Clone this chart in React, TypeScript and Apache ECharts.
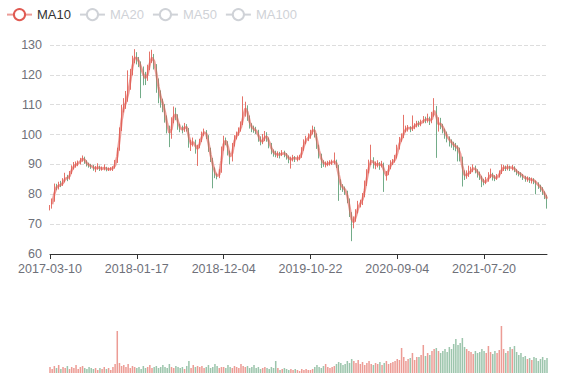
import React, { useEffect, useRef } from "react";
import * as echarts from "echarts";

// x-axis tick labels (every 40th category)
const labelDates = ["2017-03-10", "2018-01-17", "2018-12-04", "2019-10-22", "2020-09-04", "2021-07-20"];
const pointsPerLabel = 40;

// [open, close, lowest, highest]
const candles: number[][] = [
  [75.0,75.5,74.6,76.4],[75.6,77.8,75.2,78.6],[77.9,82.5,77.5,83.6],[82.6,82.2,81.4,83.5],[82.0,83.4,81.6,84.2],
  [83.6,83.0,82.4,84.5],[83.1,84.6,82.8,85.4],[84.5,85.7,84.0,87.2],[85.9,85.2,84.4,86.5],[85.1,87.0,84.9,87.8],
  [87.2,89.0,86.8,89.7],[89.2,89.6,88.3,90.8],[89.4,90.2,88.9,91.0],[90.1,90.5,89.4,91.3],[90.6,91.5,90.0,92.2],
  [91.4,92.3,90.9,93.0],[92.2,90.8,90.2,92.6],[90.9,90.0,89.3,91.4],[90.1,89.6,88.9,90.6],[89.5,89.3,88.5,90.2],
  [89.4,88.6,87.9,89.8],[88.5,88.7,87.4,89.5],[88.8,89.2,88.2,90.4],[89.3,88.4,87.8,89.6],[88.3,88.7,87.9,89.3],
  [88.8,88.9,88.0,90.0],[88.9,88.3,87.7,89.2],[88.2,88.4,87.8,89.0],[88.5,88.6,87.9,89.1],[88.5,88.8,87.8,89.4],
  [88.9,90.7,88.6,91.5],[90.8,94.8,90.5,95.6],[95.0,101.5,94.6,102.4],[101.8,108.0,101.2,110.0],[108.2,109.6,107.4,112.2],
  [109.4,112.0,108.6,114.6],[112.2,115.5,111.0,121.5],[115.8,120.5,115.0,122.0],[120.8,125.0,119.8,126.4],[125.2,126.3,123.9,128.6],
  [126.4,125.0,123.5,127.6],[125.1,123.8,122.6,126.0],[123.6,120.8,112.2,124.5],[121.0,119.5,116.5,122.8],[119.3,118.4,116.6,121.0],
  [118.6,122.0,118.0,123.4],[122.2,125.5,121.6,127.8],[125.6,126.0,124.0,128.4],[126.2,123.0,121.8,127.0],[123.0,118.0,114.0,123.6],
  [118.2,114.0,110.5,118.8],[114.2,111.0,109.0,114.8],[111.2,109.8,107.5,112.0],[109.5,105.0,104.0,110.2],[105.2,102.0,100.4,106.4],
  [102.2,99.2,95.8,103.0],[99.4,104.5,98.6,105.8],[104.6,107.5,103.8,109.4],[107.6,106.0,104.8,109.0],[106.2,102.5,101.6,106.8],
  [102.4,102.0,100.8,103.6],[102.2,101.5,100.4,103.0],[101.4,103.0,100.9,103.9],[103.2,102.0,101.0,103.5],[101.8,96.5,95.6,102.2],
  [96.6,97.0,94.5,98.2],[97.2,98.0,96.0,99.0],[97.8,94.5,93.6,98.3],[94.6,96.0,89.5,96.6],[96.2,97.9,95.4,98.6],
  [98.0,100.5,97.5,101.0],[100.4,101.0,99.6,102.0],[101.2,99.5,98.5,101.5],[99.4,95.0,94.2,99.8],[95.2,91.5,90.8,95.6],
  [91.6,88.6,82.0,92.2],[88.4,86.5,85.4,89.0],[86.6,85.8,85.0,87.0],[85.9,87.5,85.4,88.4],[87.6,95.0,87.2,96.0],
  [95.2,98.4,94.6,99.6],[98.2,97.5,96.4,99.0],[97.4,94.0,93.0,97.8],[94.2,91.2,90.0,94.6],[91.4,96.5,91.0,97.2],
  [96.6,99.0,96.0,99.8],[99.2,100.2,98.4,101.0],[100.4,101.5,99.6,102.4],[101.6,103.5,101.0,104.4],[103.8,108.0,103.2,112.8],
  [108.2,109.5,106.0,111.0],[109.4,105.5,104.6,109.8],[105.6,103.0,102.0,106.4],[103.2,102.0,100.8,103.8],[102.0,101.6,100.6,103.0],
  [101.5,101.0,100.2,102.6],[101.2,98.5,97.6,101.6],[98.6,97.3,96.4,99.4],[97.4,98.2,96.8,100.2],[98.4,100.0,97.8,101.2],
  [100.2,98.5,97.6,100.8],[98.4,96.5,95.4,99.0],[96.6,94.5,93.4,97.2],[94.4,93.8,92.6,95.0],[93.6,93.2,92.4,94.6],
  [93.0,93.5,92.2,94.4],[93.6,93.2,92.0,94.2],[93.0,94.0,92.8,94.8],[94.2,93.5,92.4,94.6],[93.4,92.8,91.6,93.8],
  [92.6,91.5,90.4,93.0],[91.4,91.8,88.6,92.6],[91.8,92.3,91.0,93.2],[92.4,91.8,90.8,92.8],[91.8,92.0,91.0,93.0],
  [92.2,92.4,91.4,93.2],[92.6,95.0,92.2,95.8],[95.2,97.5,94.6,98.4],[97.6,98.6,96.8,99.6],[98.8,99.0,97.8,100.4],
  [99.2,100.5,98.6,101.6],[100.6,102.3,100.0,103.0],[102.2,100.2,99.0,102.6],[100.0,96.0,95.2,100.4],[96.2,93.0,92.0,96.6],
  [93.2,90.8,88.8,93.6],[90.6,90.2,89.2,91.4],[90.0,90.1,89.0,91.0],[90.2,90.4,89.4,91.2],[90.4,90.6,89.6,91.4],
  [90.4,90.8,89.8,91.6],[90.9,91.2,90.0,94.0],[91.0,89.5,88.8,91.6],[89.4,84.0,77.8,89.8],[84.2,82.5,81.4,85.0],
  [82.4,82.0,80.8,83.4],[82.2,81.0,79.8,82.6],[80.8,78.0,77.0,81.2],[78.2,73.5,72.4,78.6],[73.6,69.8,64.3,74.0],
  [70.0,71.5,68.6,72.6],[71.6,74.0,70.8,75.0],[74.2,76.8,73.6,77.8],[76.6,77.0,75.6,78.2],[77.2,79.5,76.4,80.4],
  [79.6,83.0,79.0,84.6],[83.2,87.5,82.8,88.4],[87.6,90.5,87.0,91.6],[90.6,91.8,89.8,96.6],[91.6,89.8,88.6,92.4],
  [89.6,90.0,88.4,91.0],[89.9,90.3,89.0,91.4],[90.2,89.5,88.2,90.8],[89.6,90.3,89.0,91.2],[90.2,85.5,80.8,90.6],
  [85.6,87.0,84.6,87.8],[87.2,89.0,86.4,89.8],[89.2,90.5,88.4,91.4],[90.6,91.0,89.8,91.8],[91.2,92.3,90.6,93.2],
  [92.4,95.5,92.0,96.6],[95.6,98.0,95.0,99.2],[98.2,99.2,97.6,100.4],[99.4,101.5,98.8,106.6],[101.6,102.0,100.8,103.0],
  [102.0,102.4,101.0,103.2],[102.4,101.8,100.8,102.8],[101.8,102.6,101.2,106.4],[102.8,103.0,101.8,103.8],[103.0,103.8,102.4,104.6],
  [103.6,103.5,102.6,104.6],[103.4,104.2,102.8,105.0],[104.4,105.0,103.8,106.2],[105.2,104.8,103.8,106.0],[104.6,105.5,104.0,107.0],
  [105.4,104.0,103.2,106.0],[104.2,106.5,103.8,107.6],[106.6,109.5,106.0,112.2],[109.2,103.0,92.2,109.6],[103.2,104.0,101.0,105.8],
  [104.2,103.2,101.8,105.6],[103.0,101.8,100.4,103.6],[101.6,100.0,98.6,102.0],[100.2,98.8,97.4,101.0],[98.6,97.9,96.0,99.4],
  [97.8,97.0,95.6,98.4],[96.8,96.2,94.8,97.6],[96.4,95.8,94.4,97.2],[95.6,95.0,91.0,96.4],[94.8,92.0,91.0,95.6],
  [92.2,87.0,82.6,92.6],[87.2,86.0,84.8,88.0],[86.2,86.8,85.2,88.0],[86.8,87.3,85.8,89.6],[87.4,88.2,86.8,89.2],
  [88.4,89.0,87.4,90.0],[89.2,88.0,87.0,89.6],[87.8,87.0,85.6,88.4],[87.2,86.0,84.8,87.6],[85.8,84.3,82.4,86.2],
  [84.4,84.0,83.0,85.2],[84.2,84.6,83.4,85.8],[84.8,86.0,84.2,87.4],[86.2,86.8,85.4,88.6],[86.6,85.8,84.6,87.2],
  [85.6,85.2,84.4,86.4],[85.4,86.0,84.8,86.8],[86.2,87.0,85.6,88.0],[87.2,88.8,86.8,90.0],[88.6,89.0,87.8,89.8],
  [89.2,88.7,87.8,89.6],[88.6,89.2,88.0,90.0],[89.0,88.8,87.8,89.6],[88.8,89.0,88.0,89.8],[89.2,88.2,87.4,89.4],
  [88.0,87.3,86.4,88.4],[87.2,87.0,86.0,87.8],[86.8,86.5,85.6,87.4],[86.6,85.7,84.8,86.8],[85.6,85.2,84.2,86.2],
  [84.9,85.3,84.2,86.0],[85.2,84.8,83.8,85.8],[84.6,84.9,83.6,85.6],[85.0,84.4,83.4,85.4],[84.2,83.5,80.0,84.6],
  [83.6,82.8,81.8,84.0],[82.6,82.0,80.8,83.2],[82.0,80.8,79.8,82.4],[80.6,79.5,78.4,81.0],[79.4,77.5,75.2,79.8],
];

const volumes: number[] = [
  6,4,7,5,8,4,6,5,7,4, 6,5,8,4,6,7,5,4,6,5, 4,5,3,5,4,6,4,5,3,6, 9,42,10,7,8,6,9,5,7,6,
  5,6,4,7,5,6,8,5,6,7, 5,6,8,6,5,9,6,5,7,6, 5,6,4,7,12,5,8,6,7,6, 7,5,6,8,5,6,9,7,5,6,
  6,5,8,6,5,7,6,5,9,7, 6,7,5,6,8,5,6,4,5,6, 5,4,6,5,12,5,3,4,5,4, 3,4,3,4,3,2,4,3,4,3,
  3,4,6,8,6,5,7,9,6,5, 6,7,9,11,10,8,9,12,10,14, 12,10,13,9,11,8,10,12,9,8, 10,9,11,8,10,12,9,10,11,12,
  14,13,25,16,12,14,15,20,13,16, 16,18,28,17,20,18,22,24,25,22, 20,22,24,21,26,24,29,34,28,30,
  35,26,24,22,21,19,22,20,21,24, 22,20,27,21,19,22,20,23,47,24, 20,22,26,24,27,21,18,20,16,17,
  14,15,13,16,15,12,14,16,13,15,
];

const maNames = ["MA10", "MA20", "MA50", "MA100"];
// each category holds ~5.5 trading days, so windows are expressed in categories
const maWindows = [2, 4, 9, 18];
const maColors = ["#e05a52", "#5470c6", "#91cc75", "#fac858"];

const UP = "#e05a4f";
const DOWN = "#5a9e74";

function buildDates(n: number): string[] {
  const t = labelDates.map((d) => Date.parse(d + "T00:00:00Z"));
  const out: string[] = [];
  const day = 86400000;
  for (let i = 0; i < n; i++) {
    const s = Math.min(Math.floor(i / pointsPerLabel), t.length - 1);
    const span = s < t.length - 1 ? t[s + 1] - t[s] : t[s] - t[s - 1];
    const off = Math.round((((i - s * pointsPerLabel) / pointsPerLabel) * span) / day) * day;
    out.push(new Date(t[s] + off).toISOString().slice(0, 10));
  }
  return out;
}

function movingAverage(win: number): (number | string)[] {
  const res: (number | string)[] = [];
  for (let i = 0; i < candles.length; i++) {
    if (i < win - 1) {
      res.push("-");
      continue;
    }
    let sum = 0;
    for (let j = 0; j < win; j++) sum += candles[i - j][1];
    res.push(+(sum / win).toFixed(2));
  }
  return res;
}

export default function App() {
  const ref = useRef<HTMLDivElement>(null);
  useEffect(() => {
    document.body.style.margin = "0";
    if (!ref.current) return;
    const chart = echarts.init(ref.current, undefined, { renderer: "svg" });
    const dates = buildDates(candles.length);
    const volData = volumes.map((v, i) => ({
      value: v,
      itemStyle: { color: candles[i][1] >= candles[i][0] ? UP : DOWN, opacity: 0.6 },
    }));
    const maSeries = maNames.map((name, k) => ({
      name,
      type: "line",
      data: movingAverage(maWindows[k]),
      smooth: false,
      showSymbol: false,
      z: 5,
      itemStyle: { color: maColors[k] },
      lineStyle: { color: maColors[k], width: 2.5, opacity: 0.6 },
    }));
    chart.setOption({
      animation: false,
      textStyle: { fontFamily: "Liberation Sans" },
      legend: {
        left: 1,
        top: 3,
        data: maNames,
        selected: { MA10: true, MA20: false, MA50: false, MA100: false },
        textStyle: { color: "#333", fontSize: 13 },
      },
      grid: [
        { left: 50, right: 30, top: 45, height: 209 },
        { left: 50, right: 30, top: 313, height: 60 },
      ],
      xAxis: [
        {
          type: "category",
          data: dates,
          boundaryGap: false,
          axisLine: { lineStyle: { color: "#333" } },
          axisTick: { interval: pointsPerLabel - 1, lineStyle: { color: "#333" } },
          axisLabel: { interval: pointsPerLabel - 1, color: "#6E7079", fontSize: 12.5, lineHeight: 13, margin: 8 },
          splitLine: { show: false },
        },
        {
          type: "category",
          gridIndex: 1,
          data: dates,
          boundaryGap: false,
          axisLine: { show: false },
          axisTick: { show: false },
          axisLabel: { show: false },
          splitLine: { show: false },
        },
      ],
      yAxis: [
        {
          type: "value",
          min: 60,
          max: 130,
          interval: 10,
          axisLabel: { color: "#6E7079", fontSize: 12.5, lineHeight: 13 },
          splitLine: { lineStyle: { type: "dashed", color: "#ddd" } },
        },
        {
          type: "value",
          gridIndex: 1,
          min: 0,
          max: 60,
          show: false,
          splitLine: { show: false },
        },
      ],
      series: [
        {
          name: "K",
          type: "candlestick",
          data: candles,
          barWidth: "45%",
          itemStyle: { color: UP, color0: DOWN, borderColor: UP, borderColor0: DOWN, borderWidth: 1, opacity: 0.85 },
        },
        ...maSeries,
        {
          name: "Volume",
          type: "bar",
          xAxisIndex: 1,
          yAxisIndex: 1,
          barWidth: "70%",
          data: volData,
        },
      ],
    });
    return () => chart.dispose();
  }, []);
  return <div ref={ref} style={{ width: 577, height: 380 }} />;
}
